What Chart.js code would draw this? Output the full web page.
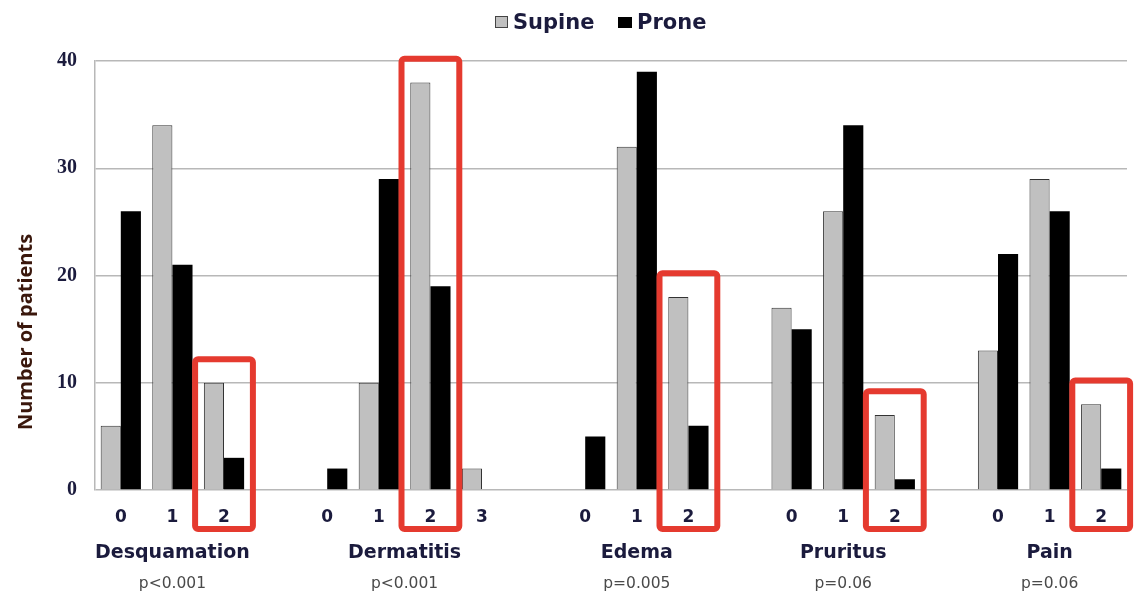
<!DOCTYPE html>
<html>
<head>
<meta charset="utf-8">
<script src="https://cdn.jsdelivr.net/npm/chart.js@4.4.1/dist/chart.umd.min.js"></script>
<style>
  html, body { margin: 0; padding: 0; background: #fff; overflow: hidden; }
  #grafico { display: block; }
</style>
</head>
<body>
<canvas id="grafico" width="1137" height="596"></canvas>
<script>
// grupos e graus (slots vazios separam os grupos)
const grupos = ['Desquamation', 'Dermatitis', 'Edema', 'Pruritus', 'Pain'];
const pValores = ['p<0.001', 'p<0.001', 'p=0.005', 'p=0.06', 'p=0.06'];
const graus = [
  ['0', '1', '2'],
  ['0', '1', '2', '3'],
  ['0', '1', '2'],
  ['0', '1', '2'],
  ['0', '1', '2']
];
const supino = [
  [6, 34, 10],
  [0, 10, 38, 2],
  [0, 32, 18],
  [17, 26, 7],
  [13, 29, 8]
];
const prono = [
  [26, 21, 3],
  [2, 29, 19, 0],
  [5, 39, 6],
  [15, 34, 1],
  [22, 26, 2]
];
const destacado = '2'; // grau marcado com a caixa vermelha
const yTicks = [0, 10, 20, 30, 40];

// monta os rótulos e séries com um slot vazio entre grupos
const labels = [];
const dadosSupino = [];
const dadosProno = [];
const indicesGrupo = [];
grupos.forEach((g, gi) => {
  if (gi > 0) { labels.push(''); dadosSupino.push(null); dadosProno.push(null); }
  const idx = [];
  graus[gi].forEach((gr, k) => {
    idx.push(labels.length);
    labels.push(gr);
    dadosSupino.push(supino[gi][k]);
    dadosProno.push(prono[gi][k]);
  });
  indicesGrupo.push(idx);
});

const corTexto = '#1b1b3d';
const fonteSans = '"DejaVu Sans", Verdana, sans-serif';

const extras = {
  id: 'extras',
  afterDraw(chart) {
    const ctx = chart.ctx;
    const x = chart.scales.x;
    const y = chart.scales.y;
    const slot = x.getPixelForValue(1) - x.getPixelForValue(0);
    ctx.save();

    // legenda
    ctx.font = 'bold 21px ' + fonteSans;
    ctx.textBaseline = 'middle';
    ctx.textAlign = 'left';
    ctx.fillStyle = '#c0c0c0';
    ctx.strokeStyle = '#444';
    ctx.lineWidth = 1;
    ctx.fillRect(495.5, 16.5, 12, 11);
    ctx.strokeRect(495.5, 16.5, 12, 11);
    ctx.fillStyle = corTexto;
    ctx.fillText('Supine', 513, 24);
    ctx.fillStyle = '#000';
    ctx.fillRect(618, 17, 14, 11);
    ctx.fillStyle = corTexto;
    ctx.fillText('Prone', 637, 24);

    // título do eixo y
    ctx.save();
    ctx.translate(26, 332);
    ctx.rotate(-Math.PI / 2);
    ctx.textAlign = 'center';
    ctx.fillStyle = '#3a170c';
    ctx.font = 'bold 20px "Open Sans", Arial, sans-serif';
    ctx.fillText('Number of patients', 0, 0);
    ctx.restore();

    // nomes dos grupos e valores p
    ctx.textAlign = 'center';
    indicesGrupo.forEach((idx, gi) => {
      const cx = (x.getPixelForValue(idx[0]) + x.getPixelForValue(idx[idx.length - 1])) / 2;
      ctx.fillStyle = corTexto;
      ctx.font = 'bold 19px ' + fonteSans;
      ctx.fillText(grupos[gi], cx, 553);
      ctx.fillStyle = '#4a4a4a';
      ctx.font = '15.5px ' + fonteSans;
      ctx.fillText(pValores[gi], cx, 584);
    });

    // caixas vermelhas
    ctx.strokeStyle = '#e53a2f';
    ctx.lineWidth = 6;
    ctx.lineJoin = 'round';
    indicesGrupo.forEach((idx, gi) => {
      const k = graus[gi].indexOf(destacado);
      if (k < 0) return;
      const cx = x.getPixelForValue(idx[k]);
      const topo = y.getPixelForValue(Math.max(supino[gi][k], prono[gi][k]) + 2.2);
      const meia = slot * 0.56;
      ctx.beginPath();
      ctx.roundRect(cx - meia, topo, meia * 2, 529 - topo, 3);
      ctx.stroke();
    });
    ctx.restore();
  }
};

new Chart(document.getElementById('grafico'), {
  type: 'bar',
  data: {
    labels: labels,
    datasets: [
      {
        label: 'Supine',
        data: dadosSupino,
        backgroundColor: '#c0c0c0',
        borderColor: '#333',
        borderWidth: 1,
        categoryPercentage: 0.78,
        barPercentage: 1
      },
      {
        label: 'Prone',
        data: dadosProno,
        backgroundColor: '#000',
        borderColor: '#000',
        borderWidth: 0,
        categoryPercentage: 0.78,
        barPercentage: 1
      }
    ]
  },
  options: {
    responsive: false,
    animation: false,
    devicePixelRatio: 1,
    layout: { padding: { top: 61, right: 10, bottom: 0, left: 0 } },
    plugins: {
      legend: { display: false },
      tooltip: { enabled: false }
    },
    scales: {
      x: {
        grid: { display: false, drawTicks: false },
        border: { display: false },
        ticks: {
          color: corTexto,
          font: { family: fonteSans, size: 17, weight: 'bold' },
          padding: 17,
          maxRotation: 0,
          autoSkip: false
        },
        afterFit(axis) { axis.height = 106; }
      },
      y: {
        min: 0,
        max: 40,
        afterBuildTicks(axis) { axis.ticks = yTicks.map(v => ({ value: v })); },
        grid: { color: '#b8b8b8', lineWidth: 1.5, drawTicks: false },
        border: { display: true, color: '#b8b8b8', width: 1.5 },
        ticks: {
          color: corTexto,
          font: { family: '"Liberation Serif", "Times New Roman", serif', size: 20, weight: 'bold' },
          padding: 18
        },
        afterFit(axis) { axis.width = 95; }
      }
    }
  },
  plugins: [extras]
});
</script>
</body>
</html>
